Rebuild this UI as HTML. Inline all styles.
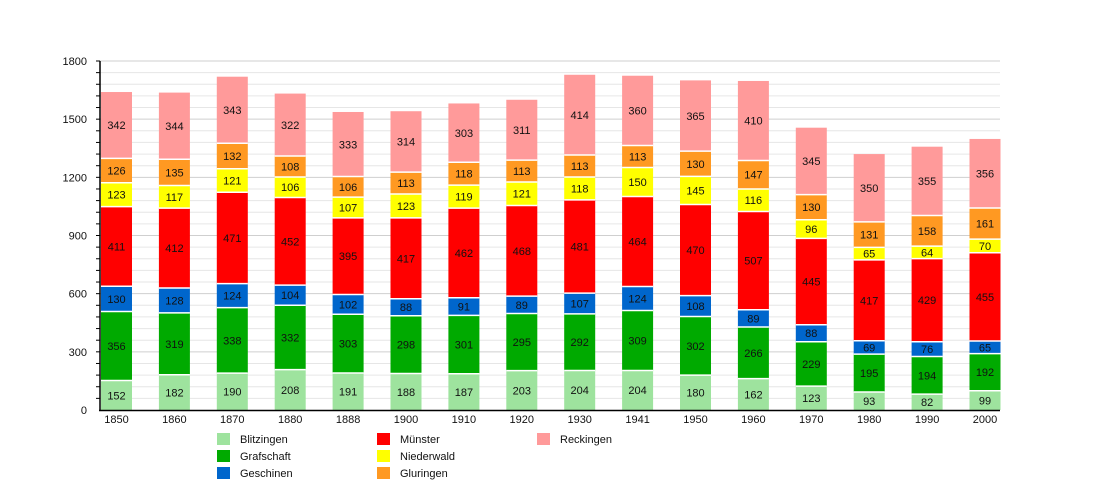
<!DOCTYPE html>
<html><head><meta charset="utf-8"><style>
html,body{margin:0;padding:0;background:#fff;width:1100px;height:500px;overflow:hidden}
svg text{font-family:"Liberation Sans",Arial,sans-serif;font-size:11px;fill:#111}
</style></head><body>
<svg id="c" width="1100" height="500" xmlns="http://www.w3.org/2000/svg"></svg>
<script>
var years=["1850","1860","1870","1880","1888","1900","1910","1920","1930","1941","1950","1960","1970","1980","1990","2000"];
var data=[[152,356,130,411,123,126,342],[182,319,128,412,117,135,344],[190,338,124,471,121,132,343],[208,332,104,452,106,108,322],[191,303,102,395,107,106,333],[188,298,88,417,123,113,314],[187,301,91,462,119,118,303],[203,295,89,468,121,113,311],[204,292,107,481,118,113,414],[204,309,124,464,150,113,360],[180,302,108,470,145,130,365],[162,266,89,507,116,147,410],[123,229,88,445,96,130,345],[93,195,69,417,65,131,350],[82,194,76,429,64,158,355],[99,192,65,455,70,161,356]];
var cols=["#9ee39e","#00aa00","#0066cc","#ff0000","#ffff00","#ff9922","#ff9a9a"];
var names=["Blitzingen","Grafschaft","Geschinen","Münster","Niederwald","Gluringen","Reckingen"];
var y0=410,k=349/1800,s="";
function Y(v){return y0-v*k;}
for(var v=60;v<=1800;v+=60){var y=Y(v);s+='<line x1="100" x2="1000" y1="'+y+'" y2="'+y+'" stroke="'+(v%300?"#e6e6e6":"#cfcfcf")+'" stroke-width="1"/>';s+='<line x1="96" x2="100" y1="'+y+'" y2="'+y+'" stroke="#000"/>';}
for(var v=0;v<=1800;v+=300){s+='<text x="87" y="'+(Y(v)+4)+'" text-anchor="end">'+v+'</text>';}
for(var i=0;i<16;i++){var x=101+57.9*i,cum=0;
 for(var j=0;j<7;j++){var a=Y(cum),b=Y(cum+data[i][j]);
  s+='<rect x="'+x+'" y="'+b+'" width="31" height="'+(a-b)+'" fill="'+cols[j]+'"/>';
  if(cum>0)s+='<line x1="'+x+'" x2="'+(x+31)+'" y1="'+a+'" y2="'+a+'" stroke="#fff" stroke-width="1.5"/>';
  s+='<text x="'+(x+15.5)+'" y="'+((a+b)/2+4)+'" text-anchor="middle">'+data[i][j]+'</text>';
  cum+=data[i][j];}
 s+='<text x="'+(x+15.5)+'" y="423" text-anchor="middle">'+years[i]+'</text>';}
s+='<line x1="100" x2="100" y1="61" y2="410.5" stroke="#000" stroke-width="1.5"/>';
s+='<line x1="99" x2="1000" y1="410.5" y2="410.5" stroke="#000" stroke-width="1.5"/>';
var lx=[217,377,537];
for(var j=0;j<7;j++){var c=Math.floor(j/3),r=j%3;if(j==6){c=2;r=0;}
 var yy=433+r*17;s+='<rect x="'+lx[c]+'" y="'+yy+'" width="13" height="12" fill="'+cols[j]+'"/>';
 s+='<text x="'+(lx[c]+23)+'" y="'+(yy+10)+'">'+names[j]+'</text>';}
document.getElementById("c").innerHTML=s;
</script>
</body></html>
